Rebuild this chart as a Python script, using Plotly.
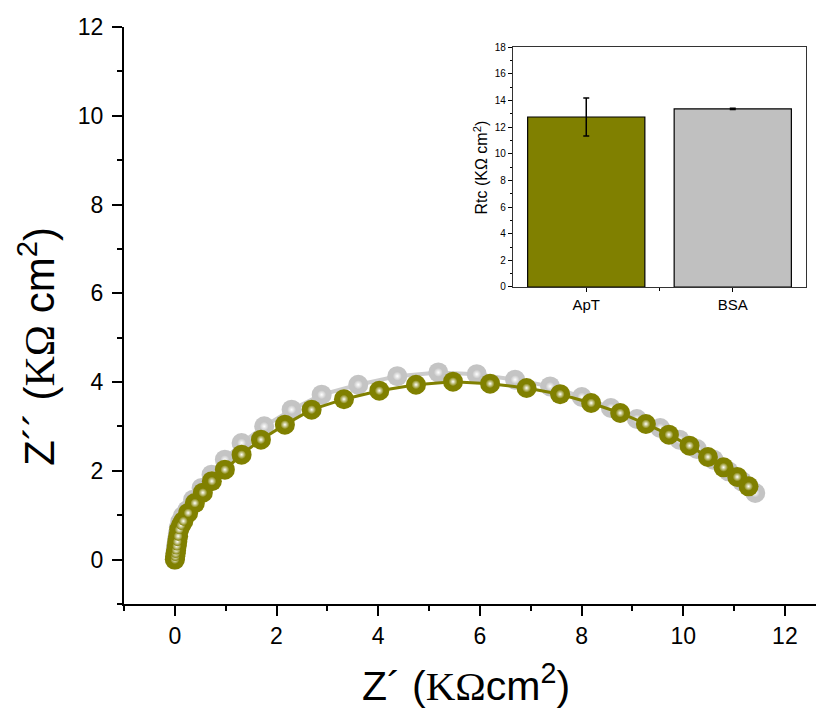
import plotly.graph_objects as go

# ---- Main Nyquist data (K-ohm cm^2) ----
apt_zre = [0, 0.008, 0.016, 0.026, 0.037, 0.049, 0.065, 0.085, 0.120, 0.167, 0.262, 0.394,
           0.551, 0.728, 0.984, 1.313, 1.693, 2.165, 2.691, 3.327, 4.022, 4.744, 5.472,
           6.201, 6.919, 7.579, 8.189, 8.760, 9.266, 9.719, 10.124, 10.486, 10.793,
           11.063, 11.285]
apt_zim = [0, 0.068, 0.135, 0.214, 0.304, 0.405, 0.529, 0.676, 0.770, 0.867, 1.052, 1.273,
           1.509, 1.768, 2.027, 2.365, 2.703, 3.041, 3.378, 3.615, 3.806, 3.941, 4.009,
           3.964, 3.867, 3.727, 3.529, 3.304, 3.056, 2.815, 2.568, 2.313, 2.079,
           1.863, 1.651]

bsa_zre = [0, 0.006, 0.012, 0.020, 0.030, 0.043, 0.059, 0.079, 0.108, 0.157, 0.242, 0.360,
           0.526, 0.722, 0.984, 1.313, 1.758, 2.297, 2.888, 3.608, 4.376, 5.183, 5.939,
           6.693, 7.382, 8.006, 8.577, 9.089, 9.547, 9.927, 10.270, 10.596, 10.892,
           11.156, 11.417]
bsa_zim = [0, 0.079, 0.158, 0.248, 0.349, 0.462, 0.586, 0.721, 0.856, 0.980, 1.110, 1.351,
           1.615, 1.914, 2.252, 2.628, 3.002, 3.378, 3.716, 3.941, 4.133, 4.218, 4.178,
           4.054, 3.903, 3.664, 3.417, 3.169, 2.966, 2.703, 2.493, 2.252, 1.989,
           1.764, 1.502]

# ---- Inset bar data ----
inset_categories = ["ApT", "BSA"]
inset_rtc = [12.75, 13.36]
inset_err = [1.42, 0.05]

OLIVE = "#808000"
GREY = "#c4c4c4"
FONT = "Liberation Sans, Arial, sans-serif"
SERIF = "Liberation Serif, Times New Roman, serif"

fig = go.Figure()


def sphere_series(x, y, color, line_color, line_width):
    fig.add_trace(go.Scatter(x=x, y=y, mode="lines",
                             line=dict(color=line_color, width=line_width),
                             hoverinfo="skip", showlegend=False))
    fig.add_trace(go.Scatter(x=x, y=y, mode="markers",
                             marker=dict(size=20, color=color, line=dict(width=0)),
                             showlegend=False))
    fig.add_trace(go.Scatter(x=x, y=y, mode="markers",
                             marker=dict(size=9, color=color, line=dict(width=0),
                                         gradient=dict(type="radial", color="#ffffff")),
                             hoverinfo="skip", showlegend=False))


sphere_series(bsa_zre, bsa_zim, GREY, "#cccccc", 4)
sphere_series(apt_zre, apt_zim, OLIVE, OLIVE, 3)

# ---- inset bars ----
xpos = list(range(len(inset_categories)))
fig.add_trace(go.Bar(
    x=xpos, y=inset_rtc, width=0.8,
    marker=dict(color=[OLIVE, "#c0c0c0"], line=dict(color="black", width=1.2)),
    error_y=dict(type="data", array=inset_err, visible=True, color="black",
                 thickness=1.5, width=3),
    xaxis="x2", yaxis="y2", showlegend=False))

axis_common = dict(showline=True, linecolor="black", linewidth=2, ticks="outside",
                   tickcolor="black", tickwidth=2, ticklen=10, showgrid=False,
                   zeroline=False, tickfont=dict(family=FONT, size=23, color="black"))

fig.update_layout(
    width=816, height=701,
    margin=dict(l=116, r=2, t=19, b=105),
    paper_bgcolor="white", plot_bgcolor="white",
    font=dict(family=FONT, color="black"),
    xaxis=dict(range=[-1, 12.73], dtick=2, tick0=0,
               minor=dict(dtick=1, tick0=0, ticklen=5, tickwidth=2, tickcolor="black",
                          ticks="outside"),
               ticklabelstandoff=0, **axis_common),
    yaxis=dict(range=[-1, 12], dtick=2, tick0=0,
               minor=dict(dtick=1, tick0=0, ticklen=5, tickwidth=2, tickcolor="black",
                          ticks="outside"),
               ticklabelstandoff=4, **axis_common),
    xaxis2=dict(domain=[0.5573, 0.9771], anchor="y2", range=[-0.5, 1.5],
                tickvals=xpos, ticktext=inset_categories,
                showline=True, mirror=True, linecolor="#333333", linewidth=1.2,
                ticks="outside", ticklen=4, tickwidth=1, tickcolor="black",
                minor=dict(tickvals=[0.5], ticklen=3, tickwidth=1, tickcolor="black",
                           ticks="outside"),
                showgrid=False, zeroline=False,
                tickfont=dict(family=FONT, size=15, color="black")),
    yaxis2=dict(domain=[0.5494, 0.9653], anchor="x2", range=[0, 18], dtick=2,
                showline=True, mirror=True, linecolor="#333333", linewidth=1.2,
                ticks="outside", ticklen=4, tickwidth=1, tickcolor="black",
                minor=dict(dtick=1, ticklen=2, tickwidth=1, tickcolor="black",
                           ticks="outside"),
                showgrid=False, zeroline=False,
                tickfont=dict(family=FONT, size=10, color="black")),
    annotations=[
        dict(text='Z´ (<span style="font-family:' + SERIF + '">KΩ</span>cm<sup>2</sup>)',
             xref="paper", yref="paper", x=0.49, y=-0.137, showarrow=False,
             xanchor="center", yanchor="middle",
             font=dict(family=FONT, size=41, color="black")),
        dict(text='Z´´ (<span style="font-family:' + SERIF + '">KΩ</span> cm<sup>2</sup>)',
             xref="paper", yref="paper", x=-0.125, y=0.447, showarrow=False,
             textangle=-90, xanchor="center", yanchor="middle",
             font=dict(family=FONT, size=42, color="black")),
        dict(text="Rtc (KΩ cm<sup>2</sup>)",
             xref="paper", yref="paper", x=0.5115, y=0.7565, showarrow=False,
             textangle=-90, xanchor="center", yanchor="middle",
             font=dict(family=FONT, size=16, color="black")),
    ],
)

fig.write_html("out.html")
